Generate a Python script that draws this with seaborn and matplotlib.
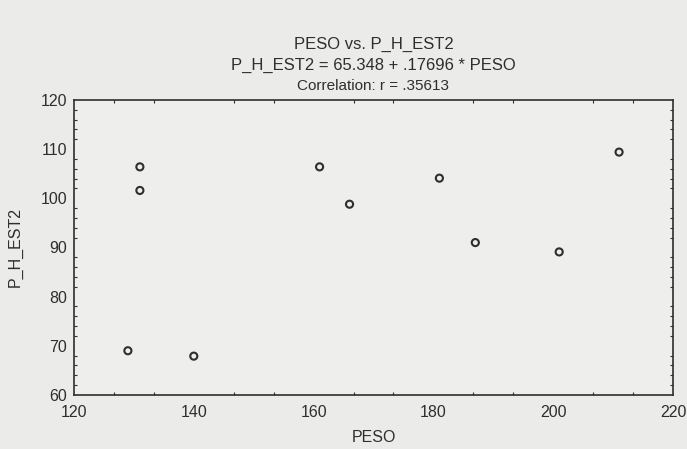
import numpy as np
import pandas as pd
import matplotlib
matplotlib.use("Agg")
import matplotlib.pyplot as plt
from matplotlib.ticker import MultipleLocator
import seaborn as sns

peso = [131, 131, 129, 140, 161, 166, 181, 187, 201, 211]
p_h_est2 = [106.4, 101.6, 69, 67.9, 106.4, 98.8, 104.1, 91, 89.1, 109.4]

df = pd.DataFrame({"PESO": peso, "P_H_EST2": p_h_est2})

sns.set_style("ticks")
plt.rcParams["font.family"] = ["Liberation Sans", "DejaVu Sans"]
bg = "#ebebe9"
ink = "#2e2e2e"

fig = plt.figure(figsize=(6.87, 4.49), dpi=100, facecolor=bg)
ax = fig.add_axes([0.1077, 0.1203, 0.8719, 0.657])
ax.set_facecolor("#eeeeec")

sns.scatterplot(data=df, x="PESO", y="P_H_EST2", ax=ax, marker="o", s=26,
                facecolor="none", edgecolor=ink, linewidth=1.5)

ax.set_xlim(120, 220)
ax.set_ylim(60, 120)
ax.xaxis.set_major_locator(MultipleLocator(20))
ax.yaxis.set_major_locator(MultipleLocator(10))
ax.xaxis.set_minor_locator(MultipleLocator(20 / 3))
ax.yaxis.set_minor_locator(MultipleLocator(2))
ax.tick_params(which="both", direction="in", top=True, right=True, colors=ink,
               labelsize=11.5, length=2.5, width=0.8)
ax.tick_params(which="major", length=0)
ax.tick_params(axis="x", which="major", pad=7.5)
ax.tick_params(axis="y", which="major", pad=5)
for s in ax.spines.values():
    s.set_color(ink)
    s.set_linewidth(1.2)

ax.set_xlabel("PESO", fontsize=11.5, color=ink, labelpad=7)
ax.set_ylabel("P_H_EST2", fontsize=11.5, color=ink, labelpad=13)

cx = 0.1077 + 0.8719 / 2
fig.text(cx, 1 - 44 / 449, "PESO vs. P_H_EST2", ha="center", va="center", fontsize=12, color=ink)
fig.text(cx, 1 - 65 / 449, "P_H_EST2 = 65.348 + .17696 * PESO", ha="center", va="center", fontsize=12, color=ink)
fig.text(cx, 1 - 86 / 449, "Correlation: r = .35613", ha="center", va="center", fontsize=11, color=ink)

fig.savefig("out.png", dpi=100, facecolor=bg)
